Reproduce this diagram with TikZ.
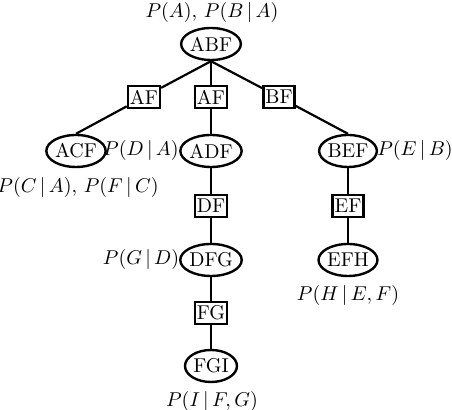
\documentclass[tikz,border=0pt]{standalone}
\usetikzlibrary{shapes.geometric}
\begin{document}
\begin{tikzpicture}[x=0.5pt,y=-0.5pt,
  clique/.style={ellipse,draw,line width=1.2pt,minimum width=26pt,minimum height=16pt,inner sep=0pt,font=\normalsize},
  sepset/.style={rectangle,draw,line width=1.2pt,inner xsep=1pt,inner ysep=1.5pt,minimum height=11pt,font=\normalsize},
  lab/.style={inner sep=0pt,font=\normalsize},
  edge/.style={line width=1.1pt}]
\useasboundingbox (0,0) rectangle (452,410);
\node[clique] (ABF) at (211,44) {ABF};
\node[lab] (lABF) at (212,13) {$P(A),\, P(B\,|\,A)$};
\node[sepset] (AF1) at (144,97) {AF};
\node[sepset] (AF2) at (211,97) {AF};
\node[sepset] (BF) at (279,97) {BF};
\node[clique] (ACF) at (76,151) {ACF};
\node[clique] (ADF) at (211,151) {ADF};
\node[clique] (BEF) at (348,151) {BEF};
\node[lab] (lADF) at (141,151) {$P(D\,|\,A)$};
\node[lab] (lBEF) at (415,151) {$P(E\,|\,B)$};
\node[lab] (lACF) at (78,188) {$P(C\,|\,A),\, P(F\,|\,C)$};
\node[sepset] (DF) at (211,206) {DF};
\node[clique] (DFG) at (211,260) {DFG};
\node[lab] (lDFG) at (141,260) {$P(G\,|\,D)$};
\node[sepset] (EF) at (348,206) {EF};
\node[clique] (EFH) at (348,260) {EFH};
\node[lab] (lEFH) at (348,296) {$P(H\,|\,E, F)$};
\node[sepset] (FG) at (211,313) {FG};
\node[clique] (FGI) at (211,366) {FGI};
\node[lab] (lFGI) at (212,402) {$P(I\,|\,F, G)$};
\draw[edge] (ABF.south) -- (AF1);
\draw[edge] (ABF.south) -- (AF2);
\draw[edge] (ABF.south) -- (BF);
\draw[edge] (AF1) -- (ACF.north);
\draw[edge] (AF2) -- (ADF);
\draw[edge] (BF) -- (BEF.north);
\draw[edge] (ADF) -- (DF);
\draw[edge] (DF) -- (DFG);
\draw[edge] (DFG) -- (FG);
\draw[edge] (FG) -- (FGI);
\draw[edge] (BEF) -- (EF);
\draw[edge] (EF) -- (EFH);
\end{tikzpicture}
\end{document}
